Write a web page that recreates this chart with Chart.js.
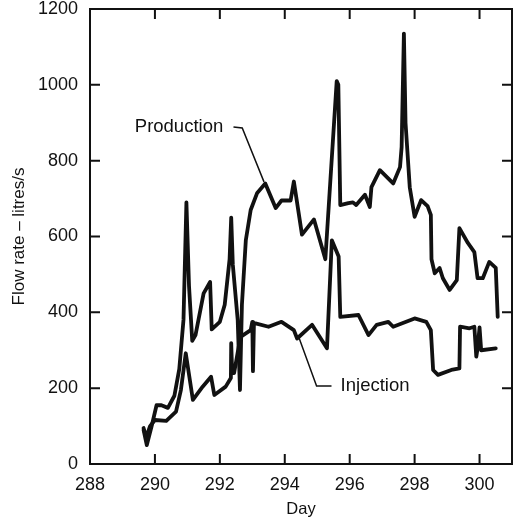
<!DOCTYPE html>
<html>
<head>
<meta charset="utf-8">
<script src="https://cdn.jsdelivr.net/npm/chart.js@4.4.0/dist/chart.umd.min.js"></script>
<style>
  html, body { margin: 0; padding: 0; background: #fff; }
  #wrap { width: 517px; height: 528px; }
</style>
</head>
<body>
<div id="wrap"><canvas id="canvas" width="517" height="528"></canvas></div>
<script>
// values
var prodDays = [289.65, 289.75, 289.9, 290.05, 290.2, 290.4, 290.6, 290.75, 290.88, 290.97, 291.05, 291.15, 291.25, 291.5, 291.7, 291.75, 292.0, 292.15, 292.3, 292.35, 292.4, 292.55, 292.62, 292.68, 292.8, 292.95, 293.15, 293.4, 293.72, 293.9, 294.18, 294.28, 294.53, 294.9, 295.25, 295.6, 295.65, 295.71, 295.96, 296.1, 296.2, 296.47, 296.62, 296.67, 296.93, 297.34, 297.55, 297.6, 297.67, 297.72, 297.85, 298.0, 298.2, 298.4, 298.5, 298.52, 298.62, 298.77, 298.87, 299.08, 299.3, 299.38, 299.64, 299.84, 299.94, 300.1, 300.3, 300.5, 300.56];
var prodFlow = [90, 50, 100, 155, 155, 148, 180, 250, 380, 690, 470, 325, 340, 450, 480, 355, 375, 420, 540, 650, 525, 380, 195, 420, 590, 670, 715, 740, 675, 695, 695, 745, 605, 645, 540, 1010, 1000, 683, 688, 690, 683, 710, 678, 730, 775, 740, 783, 836, 1135, 900, 730, 652, 696, 680, 657, 540, 503, 517, 490, 459, 485, 622, 583, 559, 490, 490, 533, 517, 388];

var injDays = [289.65, 289.73, 289.85, 290.0, 290.35, 290.65, 290.8, 290.95, 291.17, 291.47, 291.73, 291.83, 292.18, 292.34, 292.35, 292.38, 292.44, 292.6, 292.65, 292.95, 293.0, 293.02, 293.05, 293.1, 293.5, 293.9, 294.28, 294.38, 294.84, 295.3, 295.45, 295.66, 295.71, 296.27, 296.58, 296.83, 297.19, 297.34, 298.0, 298.36, 298.5, 298.57, 298.72, 299.13, 299.38, 299.4, 299.69, 299.84, 299.9, 299.94, 300.0, 300.05, 300.5];
var injFlow = [95, 70, 100, 116, 114, 138, 195, 292, 169, 204, 230, 182, 204, 227, 319, 240, 240, 319, 336, 353, 375, 245, 370, 371, 362, 375, 353, 331, 367, 305, 590, 547, 388, 393, 340, 367, 375, 362, 384, 375, 353, 248, 235, 248, 252, 362, 358, 362, 283, 305, 360, 300, 305];

var xTicks = [288, 290, 292, 294, 296, 298, 300];
var yTicks = [0, 200, 400, 600, 800, 1000, 1200];

function pts(xs, ys) {
  return xs.map(function (d, i) { return { x: d, y: ys[i] }; });
}

var ink = '#111';
var font = "'Liberation Sans', Arial, sans-serif";

var framePlugin = {
  id: 'frame',
  afterDatasetsDraw: function (chart) {
    var ctx = chart.ctx, a = chart.chartArea;
    var x = chart.scales.x, y = chart.scales.y;
    ctx.save();
    ctx.strokeStyle = ink;
    ctx.lineWidth = 2;
    ctx.strokeRect(a.left, a.top, a.right - a.left, a.bottom - a.top);
    ctx.beginPath();
    xTicks.forEach(function (v) {
      var px = x.getPixelForValue(v);
      ctx.moveTo(px, a.bottom); ctx.lineTo(px, a.bottom - 10);
      ctx.moveTo(px, a.top); ctx.lineTo(px, a.top + 10);
    });
    yTicks.forEach(function (v) {
      var py = y.getPixelForValue(v);
      ctx.moveTo(a.left, py); ctx.lineTo(a.left + 10, py);
      ctx.moveTo(a.right, py); ctx.lineTo(a.right - 10, py);
    });
    ctx.stroke();

    // labels with leader lines
    ctx.lineWidth = 1.5;
    ctx.fillStyle = ink;
    ctx.font = '18.5px ' + font;
    ctx.textBaseline = 'middle';
    ctx.textAlign = 'left';
    ctx.fillText('Production', x.getPixelForValue(289.38), y.getPixelForValue(889));
    ctx.beginPath();
    ctx.moveTo(x.getPixelForValue(292.42), y.getPixelForValue(889));
    ctx.lineTo(x.getPixelForValue(292.69), y.getPixelForValue(886));
    ctx.lineTo(x.getPixelForValue(293.36), y.getPixelForValue(744));
    ctx.stroke();

    ctx.fillText('Injection', x.getPixelForValue(295.72), y.getPixelForValue(206));
    ctx.beginPath();
    ctx.moveTo(x.getPixelForValue(295.44), y.getPixelForValue(206));
    ctx.lineTo(x.getPixelForValue(294.98), y.getPixelForValue(206));
    ctx.lineTo(x.getPixelForValue(294.43), y.getPixelForValue(335));
    ctx.stroke();
    ctx.restore();
  }
};

var ctx = document.getElementById('canvas').getContext('2d');
var myChart = new Chart(ctx, {
  type: 'line',
  data: {
    datasets: [{
      label: 'Production',
      data: pts(prodDays, prodFlow),
      borderColor: ink,
      borderWidth: 3.8
    }, {
      label: 'Injection',
      data: pts(injDays, injFlow),
      borderColor: ink,
      borderWidth: 3.8
    }]
  },
  options: {
    responsive: false,
    animation: false,
    elements: {
      line: { tension: 0, borderJoinStyle: 'round', borderCapStyle: 'round' },
      point: { radius: 0 }
    },
    layout: { padding: { top: 9, right: 5, left: 0, bottom: 0 } },
    plugins: { legend: { display: false }, tooltip: { enabled: false } },
    scales: {
      x: {
        type: 'linear',
        min: 288,
        max: 301,
        afterBuildTicks: function (s) { s.ticks = xTicks.map(function (v) { return { value: v }; }); },
        afterFit: function (s) { s.height = 64; s.paddingLeft = 0; s.paddingRight = 0; },
        grid: { display: false, drawTicks: false },
        border: { display: false },
        ticks: { color: ink, padding: 10, maxRotation: 0, font: { family: font, size: 18 },
                 callback: function (v) { return String(v); } },
        title: { display: true, text: 'Day', color: ink, padding: { top: 0, bottom: 9 }, font: { family: font, size: 16.5 } }
      },
      y: {
        min: 0,
        max: 1200,
        afterBuildTicks: function (s) { s.ticks = yTicks.map(function (v) { return { value: v }; }); },
        afterFit: function (s) { s.width = 90; s.paddingTop = 0; s.paddingBottom = 0; },
        grid: { display: false, drawTicks: false },
        border: { display: false },
        ticks: { color: ink, padding: 12, font: { family: font, size: 18 },
                 callback: function (v) { return String(v); } },
        title: { display: true, text: 'Flow rate \u2013 litres/s', color: ink, padding: { top: 9, bottom: 0 }, font: { family: font, size: 17 } }
      }
    }
  },
  plugins: [framePlugin]
});
</script>
</body>
</html>
